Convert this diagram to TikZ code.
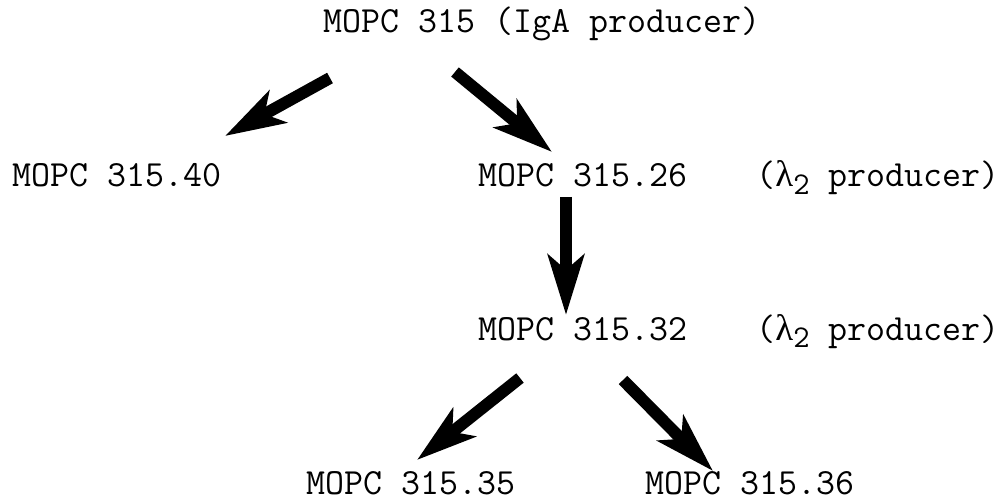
\documentclass[tikz,border=0pt]{standalone}
\usepackage{fontspec}
\newfontfamily\greekfont{Liberation Serif}
\usetikzlibrary{arrows.meta}

\newcommand{\lamtwo}{{\greekfont λ}\raisebox{-0.45ex}{\fontsize{18}{20}\selectfont 2}}

\begin{document}
\begin{tikzpicture}[
  x=0.02cm,
  y=-0.02cm,
  clonetext/.style={
    inner sep=0pt,
    anchor=base west,
    font=\ttfamily\fontsize{21}{24}\selectfont
  },
  bigarrow/.style={
    line width=6.8pt,
    -{Stealth[length=1.2cm,width=0.72cm,inset=0.3cm]}
  }
]

% Canvas, same size as the scan
\path[use as bounding box] (0,0) rectangle (1001,503);

% Parent line
\node[clonetext] (mopc) at (323,33) {MOPC 315 (IgA producer)};

% Second row
\node[clonetext] (m40) at (12,187) {MOPC 315.40};
\node[clonetext] (m26) at (478,187) {MOPC 315.26};
\node[clonetext] (m26note) at (756,187) {(\lamtwo{} producer)};

% Third row
\node[clonetext] (m32) at (478,340) {MOPC 315.32};
\node[clonetext] (m32note) at (756,340) {(\lamtwo{} producer)};

% Bottom row
\node[clonetext] (m35) at (306,494) {MOPC 315.35};
\node[clonetext] (m36) at (645,494) {MOPC 315.36};

% Arrow ends
\coordinate (a40s) at (330,78);
\coordinate (a40e) at (225,136);
\coordinate (a26s) at (455,72);
\coordinate (a26e) at (552,152);
\coordinate (a32s) at (566,197);
\coordinate (a32e) at (566,315);
\coordinate (a35s) at (520,378);
\coordinate (a35e) at (417,460);
\coordinate (a36s) at (623,380);
\coordinate (a36e) at (713,471);

% Arrows
\draw[bigarrow] (a40s) -- (a40e);
\draw[bigarrow] (a26s) -- (a26e);
\draw[bigarrow] (a32s) -- (a32e);
\draw[bigarrow] (a35s) -- (a35e);
\draw[bigarrow] (a36s) -- (a36e);

\end{tikzpicture}
\end{document}
